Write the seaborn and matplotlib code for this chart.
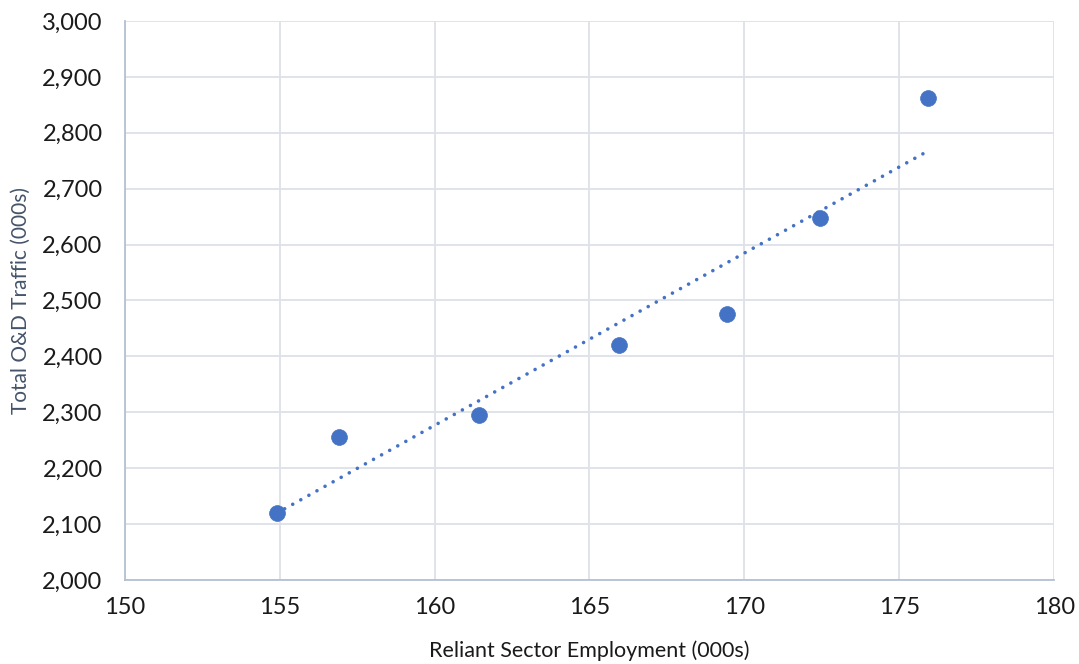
import numpy as np
import pandas as pd
import seaborn as sns
import matplotlib.pyplot as plt
from matplotlib.ticker import FuncFormatter, MultipleLocator

# Data
employment = [154.9, 156.9, 161.45, 165.94, 169.44, 172.43, 175.93]
traffic = [2119, 2255, 2296, 2420, 2476, 2647, 2863]

df = pd.DataFrame({"employment": employment, "traffic": traffic})

sns.set_style("white")
plt.rcParams["font.family"] = ["Lato", "DejaVu Sans"]

fig = plt.figure(figsize=(10.79, 6.64), dpi=100)
ax = fig.add_axes([0.1156, 0.1265, 0.8614, 0.8419])

blue = "#4472C4"

# linear trendline over data range
slope, intercept = np.polyfit(df["employment"], df["traffic"], 1)
xs = np.array([df["employment"].min(), df["employment"].max()])
ax.plot(xs, slope * xs + intercept, color=blue, lw=2.6,
        linestyle=(0, (0.01, 2.55)), dash_capstyle="round", zorder=2)

sns.scatterplot(data=df, x="employment", y="traffic", ax=ax, color=blue,
                s=130, edgecolor=blue, linewidth=0.5, zorder=3)

ax.set_xlim(150, 180)
ax.set_ylim(2000, 3000)
ax.xaxis.set_major_locator(MultipleLocator(5))
ax.yaxis.set_major_locator(MultipleLocator(100))
ax.yaxis.set_major_formatter(FuncFormatter(lambda v, p: f"{v:,.0f}"))

ax.grid(True, color="#DDE1E8", lw=1.3)
ax.set_axisbelow(True)
for s in ["top", "right"]:
    ax.spines[s].set_visible(False)
for s in ["left", "bottom"]:
    ax.spines[s].set_color("#B4C0D3")
    ax.spines[s].set_linewidth(1.3)

ax.tick_params(axis="both", length=0, labelsize=17, colors="#1a1a1a")
ax.tick_params(axis="y", pad=16)
ax.tick_params(axis="x", pad=12)
ax.set_xlabel("Reliant Sector Employment (000s)", fontsize=15.5, color="#1a1a1a", va="center")
ax.set_ylabel("Total O&D Traffic (000s)", fontsize=15, color="#44546A", va="center")
ax.xaxis.set_label_coords(0.5, -0.127)
ax.yaxis.set_label_coords(-0.112, 0.5)

fig.savefig("out.png", dpi=100)
